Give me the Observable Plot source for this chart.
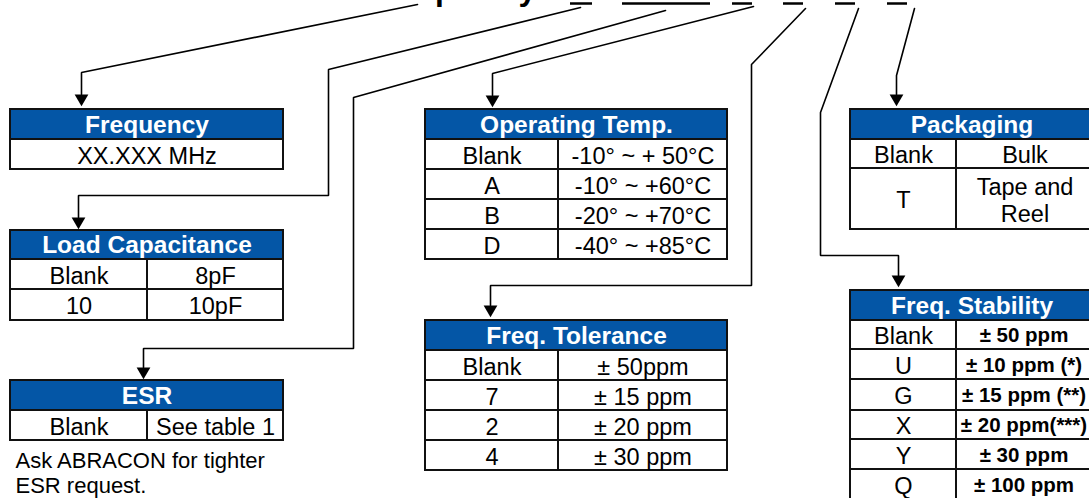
<!DOCTYPE html>
<html>
<head>
<meta charset="utf-8">
<script src="https://cdn.jsdelivr.net/npm/d3@7"></script>
<script src="https://cdn.jsdelivr.net/npm/@observablehq/plot@0.6"></script>
<style>
  html, body { margin: 0; padding: 0; background: #fff; overflow: hidden; }
  #chart svg { display: block; }
</style>
</head>
<body>
<div id="chart"></div>
<script>
// ---------- content (text of the ordering-code tables) ----------
const titleText = "Frequency";
const freqTitle = "Frequency";
const freqValues = ["XX.XXX MHz"];
const loadTitle = "Load Capacitance";
const loadCodes = ["Blank", "10"];
const loadValues = ["8pF", "10pF"];
const esrTitle = "ESR";
const esrCodes = ["Blank"];
const esrValues = ["See table 1"];
const esrNote = "Ask ABRACON for tighter\nESR request.";
const tempTitle = "Operating Temp.";
const tempCodes = ["Blank", "A", "B", "D"];
const tempValues = ["-10° ~ + 50°C", "-10° ~ +60°C", "-20° ~ +70°C", "-40° ~ +85°C"];
const tolTitle = "Freq. Tolerance";
const tolCodes = ["Blank", "7", "2", "4"];
const tolValues = ["± 50ppm", "± 15 ppm", "± 20 ppm", "± 30 ppm"];
const pkgTitle = "Packaging";
const pkgCodes = ["Blank", "T"];
const pkgValues = ["Bulk", "Tape and\nReel"];
const stabTitle = "Freq. Stability";
const stabCodes = ["Blank", "U", "G", "X", "Y", "Q"];
const stabValues = ["± 50 ppm", "± 10 ppm (*)", "± 15 ppm (**)", "± 20 ppm(***)", "± 30 ppm", "± 100 ppm"];

// ---------- layout (positions, sizes, styles) ----------
const W = 1089, H = 498;
const BLUE = "#0456A6";
const FONT = "'Liberation Sans', Arial, Helvetica, sans-serif";
const layouts = {
  freq: {x1: 10, x2: 283, split: null, top: 109, header: 30, rows: [30]},
  load: {x1: 10, x2: 283, split: 147, top: 230, header: 29, rows: [30, 31]},
  esr:  {x1: 10, x2: 283, split: 147, top: 380, header: 30, rows: [30]},
  temp: {x1: 425, x2: 727, split: 558, top: 109, header: 30, rows: [30, 30, 30, 30]},
  tol:  {x1: 425, x2: 727, split: 558, top: 320, header: 30, rows: [30, 30, 30, 30]},
  pkg:  {x1: 850, x2: 1093, split: 956, top: 109, header: 30, rows: [29, 61]},
  stab: {x1: 850, x2: 1093, split: 956, top: 290, header: 30, rows: [29, 30, 31, 29, 30, 30]}
};
// placeholder underscores in the (cropped) part number line
const slots = [[570, 592], [622, 710], [732, 752], [783, 803], [835, 855], [887, 907]];
// connector polylines: last point is the arrow tip
const connectors = [
  [[417, 4], [81, 72], [81, 106]],
  [[580, 7], [328, 69], [328, 195], [78, 195], [78, 229]],
  [[665, 10], [353, 97], [353, 348], [143, 348], [143, 379]],
  [[753, 6], [492, 73], [492, 107]],
  [[805, 8], [751, 64], [751, 285], [490, 285], [490, 317]],
  [[858, 8], [820, 112], [820, 255], [898, 255], [898, 287]],
  [[914, 8], [896, 75], [896, 106]]
];
const ARROW_H = 13;

// ---------- build marks data ----------
const rects = [];
const texts = [];
function addTable(L, title, codes, values, opts = {}) {
  rects.push({x1: L.x1, x2: L.x2, y1: L.top, y2: L.top + L.header, fill: BLUE});
  texts.push({x: (L.x1 + L.x2) / 2, y: L.top + L.header / 2 + 0.5, text: title, kind: "head"});
  let y = L.top + L.header;
  values.forEach((v, i) => {
    const h = L.rows[i];
    if (L.split == null) {
      rects.push({x1: L.x1, x2: L.x2, y1: y, y2: y + h, fill: "white"});
      texts.push({x: (L.x1 + L.x2) / 2, y: y + h / 2 + 0.5, text: v, kind: "body"});
    } else {
      rects.push({x1: L.x1, x2: L.split, y1: y, y2: y + h, fill: "white"});
      rects.push({x1: L.split, x2: L.x2, y1: y, y2: y + h, fill: "white"});
      texts.push({x: (L.x1 + L.split) / 2, y: y + h / 2 + 0.5, text: codes[i], kind: "body"});
      texts.push({x: (L.split + L.x2) / 2 - (opts.boldValues ? 1 : 0), y: y + h / 2 + 0.5, text: v, kind: opts.boldValues ? "bold" : "body"});
    }
    y += h;
  });
}
addTable(layouts.freq, freqTitle, [], freqValues);
addTable(layouts.load, loadTitle, loadCodes, loadValues);
addTable(layouts.esr, esrTitle, esrCodes, esrValues);
addTable(layouts.temp, tempTitle, tempCodes, tempValues);
addTable(layouts.tol, tolTitle, tolCodes, tolValues);
addTable(layouts.pkg, pkgTitle, pkgCodes, pkgValues);
addTable(layouts.stab, stabTitle, stabCodes, stabValues, {boldValues: true});

const linePts = [];
const arrows = [];
connectors.forEach((pts, k) => {
  const tip = pts[pts.length - 1];
  pts.forEach((p, i) => {
    const last = i === pts.length - 1;
    linePts.push({k, x: p[0], y: last ? p[1] - ARROW_H + 1 : p[1]});
  });
  arrows.push({x: tip[0], y: tip[1] - ARROW_H * 0.62});
});
const slotData = slots.map(([a, b]) => ({x1: a, x2: b, y: 3}));

const chart = Plot.plot({
  width: W, height: H, margin: 0,
  x: {domain: [0, W], range: [0, W], axis: null},
  y: {domain: [0, H], range: [0, H], axis: null},
  style: {fontFamily: FONT, background: "white", overflow: "hidden"},
  marks: [
    // cropped part-number title (only descenders visible)
    Plot.text([titleText], {x: 374, y: -11, text: d => d, textAnchor: "start", fontSize: 32, fontWeight: "bold", fill: "black"}),
    Plot.ruleY(slotData, {y: "y", x1: "x1", x2: "x2", stroke: "black", strokeWidth: 2.5}),
    Plot.line(linePts, {x: "x", y: "y", z: "k", stroke: "black", strokeWidth: 1.6, strokeLinejoin: "miter", curve: "linear"}),
    Plot.dot(arrows, {x: "x", y: "y", symbol: "triangle", rotate: 180, r: 5.1, fill: "black", stroke: "none"}),
    Plot.rect(rects, {x1: "x1", x2: "x2", y1: "y1", y2: "y2", fill: d => d.fill, stroke: "#111", strokeWidth: 2, inset: 0}),
    Plot.text(texts.filter(d => d.kind === "head"), {x: "x", y: "y", text: "text", fill: "white", fontSize: 24.5, fontWeight: "bold"}),
    Plot.text(texts.filter(d => d.kind === "body"), {x: "x", y: "y", text: "text", fill: "black", fontSize: 23.5, lineHeight: 1.15}),
    Plot.text(texts.filter(d => d.kind === "bold"), {x: "x", y: "y", text: "text", fill: "black", fontSize: 20.5, fontWeight: "bold"}),
    Plot.text([esrNote], {x: 15, y: 472, text: d => d, textAnchor: "start", lineAnchor: "middle", fontSize: 22, lineHeight: 1.15, fill: "black"})
  ]
});
document.getElementById("chart").appendChild(chart);
</script>
</body>
</html>
